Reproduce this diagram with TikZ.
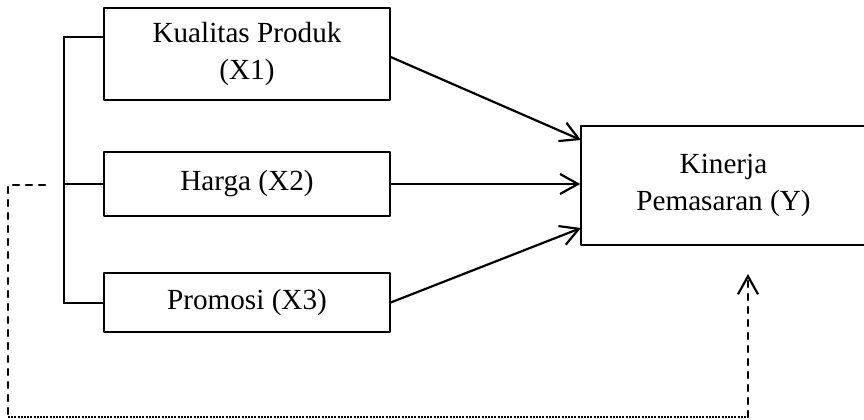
\documentclass[tikz,border=0pt]{standalone}
\usepackage{fontspec}
\setmainfont{Liberation Serif}
\usetikzlibrary{arrows.meta}

\begin{document}
\begin{tikzpicture}[line cap=round,line join=round,>={Straight Barb[length=9pt,width=10pt]},x=0.5pt,y=-0.5pt,
		kotak/.style={draw,line width=0.7pt,align=center,inner sep=0pt,font=\fontsize{14.6}{18.5}\selectfont},
		panah/.style={->,line width=1.1pt},
		putus/.style={line width=1.1pt,dash pattern=on 3pt off 3.5pt},
		titik/.style={line width=0.6pt,line cap=butt,dash pattern=on 1pt off 0.6pt}]
				\useasboundingbox (0,0) rectangle (864,419);
				\node [kotak,minimum width=143pt,minimum height=46pt] (X1) at (247,54) {Kualitas Produk\\(X1)};
				\node [kotak,minimum width=143pt,minimum height=32pt] (X2) at (247,184) {Harga (X2)};
				\node [kotak,minimum width=143pt,minimum height=29.5pt] (X3) at (247,302.5) {Promosi (X3)};
				\node [kotak,minimum width=142.5pt,minimum height=59.5pt] (Y) at (723.5,185.5) {Kinerja\\Pemasaran (Y)};
				\coordinate (brT) at (64,37);
				\coordinate (brM) at (64,184);
				\coordinate (brB) at (64,303);
				\coordinate (Yin1) at (581,140);
				\coordinate (Yin3) at (581,228);
				\coordinate (fbA) at (45,185);
				\coordinate (fbB) at (8,185);
				\coordinate (fbC) at (8,417);
				\coordinate (fbD) at (748,417);
				\coordinate (fbE) at (748,274);
				\draw [line width=1.1pt] (brT)-- (brB);
				\draw [line width=1.1pt] (brT)-- (brT -| X1.west);
				\draw [line width=1.1pt] (brM)-- (X2.west);
				\draw [line width=1.1pt] (brB)-- (brB -| X3.west);
				\draw [panah] (X1.east |- 0,57)-- (Yin1);
				\draw [panah] (X2.east)-- (X2.east -| Y.west);
				\draw [panah] (X3.east)-- (Yin3);
				\draw [putus] (fbA)-- (fbB)-- (fbC);
				\draw [titik] (fbC)-- (fbD);
				\draw [putus,->] (fbD)-- (fbE);
			\end{tikzpicture}
\end{document}
